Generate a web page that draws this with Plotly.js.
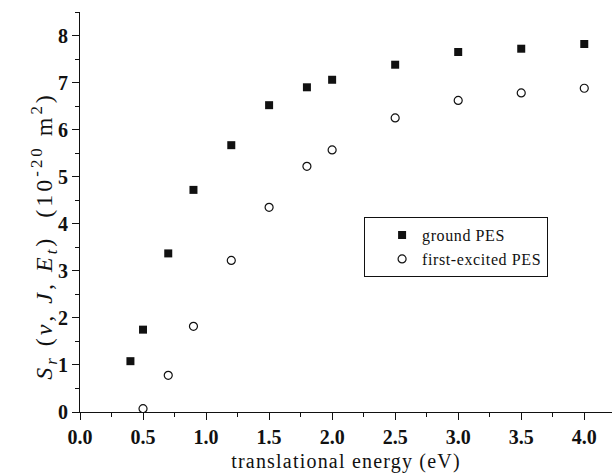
<!DOCTYPE html>
<html><head><meta charset="utf-8">
<script src="https://cdn.plot.ly/plotly-3.0.1.min.js"></script>
<style>
body{margin:0;padding:0;background:#fff}#c{width:612px;height:475px}
.xtitle{letter-spacing:1.2px}
.annotation-text{letter-spacing:3px}
.legendtext{letter-spacing:0.6px}
</style>
</head><body><div id="c"></div>
<script>
const groundE = [0.4, 0.5, 0.7, 0.9, 1.2, 1.5, 1.8, 2.0, 2.5, 3.0, 3.5, 4.0];
const groundS = [1.08, 1.75, 3.37, 4.72, 5.67, 6.52, 6.90, 7.06, 7.38, 7.65, 7.72, 7.82];
const excitedE = [0.5, 0.7, 0.9, 1.2, 1.5, 1.8, 2.0, 2.5, 3.0, 3.5, 4.0];
const excitedS = [0.07, 0.78, 1.82, 3.22, 4.35, 5.22, 5.57, 6.25, 6.62, 6.78, 6.88];
const xTicks = [0, 0.5, 1, 1.5, 2, 2.5, 3, 3.5, 4];
const xTickText = ['0.0','0.5','1.0','1.5','2.0','2.5','3.0','3.5','4.0'];
const yTitle = '<i>S<sub>r</sub></i> (<i>v</i>, <i>J</i>, <i>E<sub>t</sub></i>)  (10<sup>-20</sup> m<sup>2</sup>)';

const traces = [
  {x: groundE, y: groundS, name: 'ground PES', mode: 'markers', type: 'scatter',
   marker: {symbol: 'square', size: 8, color: '#111'}},
  {x: excitedE, y: excitedS, name: 'first-excited PES', mode: 'markers', type: 'scatter',
   marker: {symbol: 'circle-open', size: 8, color: '#111', line: {width: 1.2, color: '#111'}}}
];
const font = {family: 'Liberation Serif, Times New Roman, serif', color: '#111'};
const layout = {
  width: 612, height: 475,
  margin: {l: 80, r: 0, t: 12, b: 63},
  paper_bgcolor: '#fff', plot_bgcolor: '#fff',
  font: font,
  showlegend: true,
  legend: {x: 0.534, y: 0.487, xanchor: 'left', yanchor: 'top',
    bordercolor: '#111', borderwidth: 1, bgcolor: '#fff', indentation: 17,
    font: {family: font.family, size: 16, color: '#111'}, tracegroupgap: 0, itemwidth: 30},
  xaxis: {range: [0, 4.22], showgrid: false, zeroline: false, showline: true, linecolor: '#111', linewidth: 1,
    ticks: 'outside', ticklen: 7, tickcolor: '#111', tickvals: xTicks, ticktext: xTickText,
    tickfont: {family: font.family, size: 20, color: '#111', weight: 'bold'},
    minor: {dtick: 0.25, ticks: 'outside', ticklen: 4, tickcolor: '#111', showgrid: false},
    title: {text: 'translational energy (eV)', font: {family: font.family, size: 20, color: '#111'}, standoff: 6}},
  yaxis: {range: [0, 8.5], showgrid: false, zeroline: false, showline: true, linecolor: '#111', linewidth: 1,
    ticks: 'outside', ticklen: 7, tickcolor: '#111', dtick: 1,
    tickfont: {family: font.family, size: 20, color: '#111', weight: 'bold'},
    minor: {dtick: 0.5, ticks: 'outside', ticklen: 4, tickcolor: '#111', showgrid: false}},
  annotations: [{text: yTitle, xref: 'paper', yref: 'paper', x: -0.068, y: 0.44,
    xanchor: 'center', yanchor: 'middle', textangle: -90, showarrow: false,
    font: {family: font.family, size: 24, color: '#111'}}]
};
Plotly.newPlot('c', traces, layout, {displayModeBar: false, staticPlot: true});
</script></body></html>
